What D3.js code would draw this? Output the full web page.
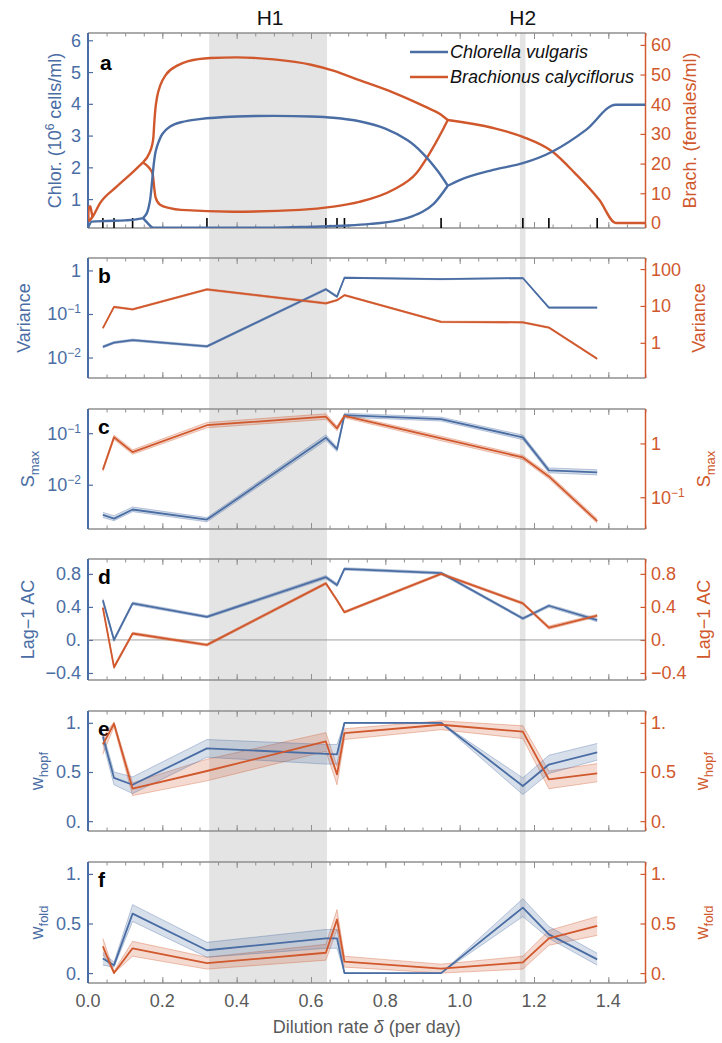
<!DOCTYPE html>
<html><head><meta charset="utf-8">
<script src="https://cdn.jsdelivr.net/npm/d3@7"></script>
<style>
body{margin:0;background:#fff}
svg{display:block}
text{font-family:"Liberation Sans",Arial,Helvetica,sans-serif}
</style>
</head><body>
<svg id="chart" width="722" height="1043"></svg>
<script>
// ---------------- DATA ----------------
const deltas = [0.04,0.07,0.12,0.32,0.64,0.67,0.69,0.95,1.17,1.24,1.37];
const H1 = [0.326,0.643];
const H2 = [1.162,1.177];

// Panel a: bifurcation branches [delta, value]
const chlorInit  = [[0,0.09],[0.004,0.2],[0.01,0.29],[0.05,0.31],[0.1,0.33],[0.13,0.36],[0.148,0.4]];
const chlorUpper = [[0.148,0.4],[0.158,0.55],[0.166,0.9],[0.172,1.5],[0.176,2.0],[0.182,2.5],[0.19,2.8],[0.2,3.05],[0.22,3.28],[0.25,3.42],[0.3,3.52],[0.4,3.6],[0.5,3.62],[0.6,3.6],[0.66,3.56],[0.73,3.45],[0.8,3.22],[0.86,2.85],[0.9,2.45],[0.94,1.9],[0.968,1.42]];
const chlorLower = [[0.148,0.4],[0.16,0.25],[0.175,0.1],[0.3,0.1],[0.5,0.1],[0.6,0.13],[0.7,0.17],[0.76,0.22],[0.82,0.3],[0.87,0.45],[0.9,0.6],[0.93,0.85],[0.968,1.42]];
const chlorAfter = [[0.968,1.42],[1.0,1.6],[1.09,1.92],[1.17,2.13],[1.25,2.5],[1.34,3.18],[1.42,3.97],[1.5,3.97]];

const brachInit  = [[0.002,0.5],[0.012,2.0],[0.032,6.6],[0.077,12.2],[0.122,17.3],[0.148,20.4]];
const brachLoop  = [[0.002,0.5],[0.001,3],[0.003,5.3],[0.006,5.6],[0.009,4],[0.012,2.0]];
const brachUpper = [[0.148,20.4],[0.165,23.5],[0.172,26],[0.176,29],[0.178,33],[0.181,38],[0.186,42.5],[0.195,46.5],[0.21,50],[0.24,53],[0.27,54.5],[0.33,55.6],[0.4,55.8],[0.5,55.1],[0.6,53.3],[0.66,51.3],[0.73,48.1],[0.82,44.0],[0.91,39.0],[0.946,36.8],[0.968,34.7]];
const brachLower = [[0.148,20.4],[0.165,18.5],[0.174,16.5],[0.178,12],[0.182,8.5],[0.194,6.1],[0.22,5],[0.25,4.4],[0.39,3.8],[0.57,4.4],[0.66,5.5],[0.73,7.1],[0.82,11.1],[0.884,16.8],[0.92,23.6],[0.95,30.3],[0.968,34.7]];
const brachAfter = [[0.968,34.7],[1.09,32],[1.17,29],[1.25,24],[1.31,16.8],[1.376,7.7],[1.42,0],[1.5,0]];

// Panel b: variance
const bBlue   = [0.0176,0.022,0.025,0.018,0.37,0.25,0.68,0.63,0.67,0.14,0.14];
const bBlueLo = [0.0166,0.0208,0.0237,0.0171,0.35,0.237,0.66,0.61,0.65,0.135,0.135];
const bBlueHi = [0.0187,0.0233,0.0265,0.0191,0.39,0.265,0.70,0.65,0.69,0.146,0.146];
const bRed    = [2.5,9.4,8.1,28,11.8,14.3,19.6,3.7,3.6,2.6,0.37];
const bRedLo  = [2.38,8.9,7.7,26.5,11.1,13.6,18.7,3.52,3.43,2.47,0.35];
const bRedHi  = [2.63,9.9,8.5,29.5,12.5,15.0,20.6,3.88,3.78,2.73,0.39];

// Panel c: S_max
const cBlue   = [0.0026,0.0022,0.0033,0.0021,0.082,0.049,0.225,0.188,0.083,0.019,0.0174];
const cBlueLo = [0.0023,0.002,0.003,0.0019,0.072,0.044,0.205,0.172,0.075,0.017,0.0155];
const cBlueHi = [0.0029,0.0025,0.0037,0.0023,0.093,0.054,0.245,0.205,0.092,0.0212,0.0195];
const cRed    = [0.325,1.3,0.69,2.18,3.16,1.91,3.25,1.24,0.55,0.244,0.036];
const cRedLo  = [0.3,1.18,0.63,1.95,2.8,1.72,3.0,1.12,0.5,0.22,0.033];
const cRedHi  = [0.35,1.43,0.76,2.45,3.55,2.1,3.5,1.36,0.6,0.27,0.04];

// Panel d: lag-1 AC
const dBlue   = [0.48,0.0,0.443,0.28,0.76,0.665,0.86,0.81,0.26,0.414,0.24];
const dBlueLo = [0.46,-0.02,0.425,0.265,0.74,0.645,0.845,0.795,0.245,0.395,0.22];
const dBlueHi = [0.5,0.02,0.46,0.295,0.78,0.685,0.875,0.825,0.275,0.43,0.26];
const dRed    = [0.39,-0.33,0.078,-0.06,0.685,0.48,0.336,0.8,0.443,0.15,0.295];
const dRedLo  = [0.375,-0.35,0.062,-0.075,0.67,0.465,0.322,0.785,0.428,0.13,0.28];
const dRedHi  = [0.405,-0.31,0.094,-0.045,0.7,0.495,0.35,0.815,0.458,0.17,0.31];

// Panel e: w_hopf
const eBlue   = [0.86,0.44,0.37,0.74,0.685,0.68,1.0,1.0,0.357,0.576,0.70];
const eBlueLo = [0.8,0.37,0.28,0.65,0.58,0.58,0.995,0.995,0.27,0.485,0.62];
const eBlueHi = [0.9,0.5,0.45,0.83,0.78,0.78,1.0,1.0,0.44,0.67,0.79];
const eRed    = [0.78,0.99,0.33,0.51,0.81,0.475,0.896,0.98,0.91,0.424,0.485];
const eRedLo  = [0.68,0.96,0.26,0.41,0.71,0.37,0.83,0.93,0.84,0.33,0.40];
const eRedHi  = [0.85,1.01,0.39,0.63,0.9,0.56,0.94,1.02,0.97,0.51,0.585];

// Panel f: w_fold
const fBlue   = [0.148,0.08,0.60,0.23,0.35,0.35,0.0,0.0,0.66,0.39,0.138];
const fBlueLo = [0.08,0.06,0.52,0.16,0.25,0.25,0.0,0.0,0.57,0.35,0.08];
const fBlueHi = [0.21,0.11,0.69,0.31,0.44,0.44,0.0,0.0,0.75,0.47,0.2];
const fRed    = [0.27,0.0,0.25,0.1,0.205,0.54,0.115,0.044,0.108,0.35,0.475];
const fRedLo  = [0.19,0.0,0.17,0.04,0.13,0.44,0.06,0.0,0.04,0.28,0.38];
const fRedHi  = [0.35,0.02,0.32,0.16,0.29,0.64,0.17,0.09,0.17,0.43,0.57];

const xTickLabels = ["0.0","0.2","0.4","0.6","0.8","1.0","1.2","1.4"];

// ---------------- STYLE ----------------
const BLUE="#4a6da4", RED="#d0582c", FRAME="#8f8f8f", SHADE="#e4e4e4", TXT="#5a5a5a";
const FS=18;
const svg=d3.select("#chart");
const x=d3.scaleLinear().domain([0,1.5]).range([88,645.5]);

// shaded bands
svg.append("rect").attr("x",x(H1[0])).attr("y",33).attr("width",x(H1[1])-x(H1[0])).attr("height",983-33).attr("fill",SHADE);
svg.append("rect").attr("x",x(H2[0])).attr("y",33).attr("width",x(H2[1])-x(H2[0])).attr("height",983-33).attr("fill",SHADE);
svg.append("text").attr("x",(x(H1[0])+x(H1[1]))/2+2).attr("y",25).attr("text-anchor","middle").attr("font-size",21).attr("fill","#111").text("H1");
svg.append("text").attr("x",(x(H2[0])+x(H2[1]))/2).attr("y",25).attr("text-anchor","middle").attr("font-size",21).attr("fill","#111").text("H2");

function addLabel(g, xx, yy, parts, anchor, color){
  const t=g.append("text").attr("x",xx).attr("y",yy).attr("text-anchor",anchor).attr("fill",color).attr("font-size",FS);
  let shift=0;
  parts.forEach(p=>{
    const s=t.append("tspan").text(p[0]);
    let target=0;
    if(p[1]==="sup"){target=-7; s.attr("font-size",12);}
    else if(p[1]==="sub"){target=5; s.attr("font-size",13);}
    else if(p[1]==="it"){s.attr("font-style","italic");}
    if(target!==shift){s.attr("dy",target-shift); shift=target;}
  });
  return t;
}
function vTitle(cx, cy, parts, color){
  const g=svg.append("g").attr("transform",`translate(${cx},${cy}) rotate(-90)`);
  return addLabel(g,0,6,parts,"middle",color);
}

function panel(o){
  const {top,bottom,yl,yr}=o;
  const g=svg.append("g");
  const cid="clip"+o.name;
  svg.append("clipPath").attr("id",cid).append("rect").attr("x",x(0)).attr("y",top).attr("width",x(1.5)-x(0)).attr("height",bottom-top);
  const minor=d3.range(0,1.5001,0.05).map(v=>+v.toFixed(2));
  const major=d3.range(0,1.5001,0.2).map(v=>+v.toFixed(2));
  [[bottom,d3.axisBottom],[top,d3.axisTop]].forEach(([yy,fn])=>{
    const a1=g.append("g").attr("transform",`translate(0,${yy})`).call(fn(x).tickValues(minor).tickSize(-3.5).tickFormat(""));
    const a2=g.append("g").attr("transform",`translate(0,${yy})`).call(fn(x).tickValues(major).tickSize(-6).tickFormat(""));
    [a1,a2].forEach(a=>{a.select(".domain").remove(); a.selectAll("line").attr("stroke",FRAME).attr("stroke-width",1);});
  });
  const la=g.append("g").attr("transform",`translate(${x(0)},0)`).call(d3.axisLeft(yl).tickValues(o.lt.map(d=>d[0])).tickSize(-5).tickFormat(""));
  la.select(".domain").remove(); la.selectAll("line").attr("stroke",BLUE).attr("stroke-width",1.2);
  const ra=g.append("g").attr("transform",`translate(${x(1.5)},0)`).call(d3.axisRight(yr).tickValues(o.rt.map(d=>d[0])).tickSize(-5).tickFormat(""));
  ra.select(".domain").remove(); ra.selectAll("line").attr("stroke",RED).attr("stroke-width",1.2);
  g.append("line").attr("x1",x(0)).attr("x2",x(1.5)).attr("y1",top).attr("y2",top).attr("stroke",FRAME).attr("stroke-width",1.3);
  g.append("line").attr("x1",x(0)).attr("x2",x(1.5)).attr("y1",bottom).attr("y2",bottom).attr("stroke",FRAME).attr("stroke-width",1.3);
  g.append("line").attr("x1",x(0)).attr("x2",x(0)).attr("y1",top).attr("y2",bottom).attr("stroke",BLUE).attr("stroke-width",2);
  g.append("line").attr("x1",x(1.5)).attr("x2",x(1.5)).attr("y1",top).attr("y2",bottom).attr("stroke",RED).attr("stroke-width",1.5);
  o.lt.forEach(d=>addLabel(g,81,yl(d[0])+6.5,d[1],"end",BLUE));
  o.rt.forEach(d=>addLabel(g,651,yr(d[0])+6.5,d[1],"start",RED));
  vTitle(o.ltx,(top+bottom)/2,o.ltitle,BLUE);
  vTitle(o.rtx,(top+bottom)/2,o.rtitle,RED);
  svg.append("text").attr("x",o.lx||98).attr("y",o.ly||top+25).attr("font-size",21).attr("font-weight","bold").attr("fill","#000").text(o.name);
  return {g:svg.append("g").attr("clip-path",`url(#${cid})`)};
}

function series(pg, yscale, vals, lo, hi, color){
  const pts=deltas.map((d,i)=>({d,v:vals[i],lo:lo[i],hi:hi[i]}));
  const area=d3.area().x(p=>x(p.d)).y0(p=>yscale(p.lo)).y1(p=>yscale(p.hi));
  pg.append("path").datum(pts).attr("d",area).attr("fill",color).attr("fill-opacity",0.22);
  ["lo","hi"].forEach(k=>pg.append("path").datum(pts).attr("d",d3.line().x(p=>x(p.d)).y(p=>yscale(p[k]))).attr("fill","none").attr("stroke",color).attr("stroke-opacity",0.35).attr("stroke-width",1));
  return pts;
}
function mainLine(pg,yscale,pts,color,w){
  pg.append("path").datum(pts).attr("d",d3.line().x(p=>x(p.d)).y(p=>yscale(p.v))).attr("fill","none").attr("stroke",color).attr("stroke-width",w||1.8).attr("stroke-linejoin","round");
}

// ---------------- PANEL A ----------------
const yA=d3.scaleLinear().domain([0.09,6.23]).range([228,33]);
const yAr=d3.scaleLinear().domain([-1.7,64]).range([228,33]);
const pa=panel({name:"a",top:33,bottom:228,yl:yA,yr:yAr,lx:100,ly:70,
  lt:[1,2,3,4,5,6].map(v=>[v,[[String(v),"n"]]]),
  rt:[0,10,20,30,40,50,60].map(v=>[v,[[String(v),"n"]]]),
  ltx:55,rtx:690,
  ltitle:[["Chlor. (10","n"],["6","sup"],[" cells/ml)","n"]],
  rtitle:[["Brach. (females/ml)","n"]]});
pa.g.selectAll(".samp").data(deltas).enter().append("line").attr("x1",d=>x(d)).attr("x2",d=>x(d)).attr("y1",228).attr("y2",218).attr("stroke","#000").attr("stroke-width",1.6);
const lineA=d3.line().x(d=>x(d[0])).y(d=>yA(d[1])).curve(d3.curveMonotoneX);
const lineAr=d3.line().x(d=>x(d[0])).y(d=>yAr(d[1])).curve(d3.curveMonotoneX);
const lineArLoop=d3.line().x(d=>x(d[0])).y(d=>yAr(d[1])).curve(d3.curveCatmullRom);
[brachInit,brachUpper,brachLower,brachAfter].forEach(s=>pa.g.append("path").attr("d",lineAr(s)).attr("fill","none").attr("stroke",RED).attr("stroke-width",2.4));
pa.g.append("path").attr("d",lineArLoop(brachLoop)).attr("fill","none").attr("stroke",RED).attr("stroke-width",2.4);
const lineAu=d3.line().x(d=>x(d[0])).y(d=>yA(d[1])).curve(d3.curveCatmullRom);
[chlorInit,chlorLower,chlorAfter].forEach(s=>pa.g.append("path").attr("d",lineA(s)).attr("fill","none").attr("stroke",BLUE).attr("stroke-width",2.4));
pa.g.append("path").attr("d",lineAu(chlorUpper)).attr("fill","none").attr("stroke",BLUE).attr("stroke-width",2.4);
const leg=[["Chlorella vulgaris",BLUE,52],["Brachionus calyciflorus",RED,77]];
leg.forEach(l=>{
  svg.append("line").attr("x1",410).attr("x2",448).attr("y1",l[2]).attr("y2",l[2]).attr("stroke",l[1]).attr("stroke-width",2.6);
  svg.append("text").attr("x",450).attr("y",l[2]+6).attr("font-size",18).attr("font-style","italic").attr("fill","#111").text(l[0]);
});

// ---------------- PANEL B ----------------
const yB=d3.scaleLog().domain([Math.pow(10,-2.47),Math.pow(10,0.286)]).range([378,258]);
const yBr=d3.scaleLog().domain([Math.pow(10,-0.954),Math.pow(10,2.3)]).range([378,258]);
const pb=panel({name:"b",top:258,bottom:378,yl:yB,yr:yBr,
  lt:[[1,[["1","n"]]],[0.1,[["10","n"],["−1","sup"]]],[0.01,[["10","n"],["−2","sup"]]]],
  rt:[[100,[["100","n"]]],[10,[["10","n"]]],[1,[["1","n"]]]],
  ltx:24,rtx:699,ltitle:[["Variance","n"]],rtitle:[["Variance","n"]]});
const bR=series(pb.g,yBr,bRed,bRedLo,bRedHi,RED);
const bB=series(pb.g,yB,bBlue,bBlueLo,bBlueHi,BLUE);
mainLine(pb.g,yB,bB,BLUE); mainLine(pb.g,yBr,bR,RED);

// ---------------- PANEL C ----------------
const yC=d3.scaleLog().domain([Math.pow(10,-2.86),Math.pow(10,-0.53)]).range([529,409]);
const yCr=d3.scaleLog().domain([Math.pow(10,-1.59),Math.pow(10,0.64)]).range([529,409]);
const pc=panel({name:"c",top:409,bottom:529,yl:yC,yr:yCr,
  lt:[[0.1,[["10","n"],["−1","sup"]]],[0.01,[["10","n"],["−2","sup"]]]],
  rt:[[1,[["1","n"]]],[0.1,[["10","n"],["−1","sup"]]]],
  ltx:28,rtx:704,ltitle:[["S","n"],["max","sub"]],rtitle:[["S","n"],["max","sub"]]});
const cR=series(pc.g,yCr,cRed,cRedLo,cRedHi,RED);
const cB=series(pc.g,yC,cBlue,cBlueLo,cBlueHi,BLUE);
mainLine(pc.g,yC,cB,BLUE); mainLine(pc.g,yCr,cR,RED);

// ---------------- PANEL D ----------------
const yD=d3.scaleLinear().domain([-0.485,0.98]).range([680,559]);
const dTicks=[[0.8,[["0.8","n"]]],[0.4,[["0.4","n"]]],[0,[["0.","n"]]],[-0.4,[["−0.4","n"]]]];
const pd=panel({name:"d",top:559,bottom:680,yl:yD,yr:yD,lt:dTicks,rt:dTicks,
  ltx:28,rtx:704,ltitle:[["Lag−1 AC","n"]],rtitle:[["Lag−1 AC","n"]]});
pd.g.append("line").attr("x1",x(0)).attr("x2",x(1.5)).attr("y1",yD(0)).attr("y2",yD(0)).attr("stroke","#888").attr("stroke-width",0.8);
const dR=series(pd.g,yD,dRed,dRedLo,dRedHi,RED);
const dB=series(pd.g,yD,dBlue,dBlueLo,dBlueHi,BLUE);
mainLine(pd.g,yD,dB,BLUE); mainLine(pd.g,yD,dR,RED);

// ---------------- PANEL E ----------------
const wTicks=[[1,[["1.","n"]]],[0.5,[["0.5","n"]]],[0,[["0.","n"]]]];
const yE=d3.scaleLinear().domain([-0.1,1.12]).range([831,711]);
const pe=panel({name:"e",top:711,bottom:831,yl:yE,yr:yE,lt:wTicks,rt:wTicks,
  ltx:37,rtx:702,ltitle:[["w","n"],["hopf","sub"]],rtitle:[["w","n"],["hopf","sub"]]});
const eR=series(pe.g,yE,eRed,eRedLo,eRedHi,RED);
const eB=series(pe.g,yE,eBlue,eBlueLo,eBlueHi,BLUE);
mainLine(pe.g,yE,eB,BLUE); mainLine(pe.g,yE,eR,RED);

// ---------------- PANEL F ----------------
const yF=d3.scaleLinear().domain([-0.1,1.12]).range([983,862]);
const pf=panel({name:"f",top:862,bottom:983,yl:yF,yr:yF,lt:wTicks,rt:wTicks,
  ltx:37,rtx:702,ltitle:[["w","n"],["fold","sub"]],rtitle:[["w","n"],["fold","sub"]]});
const fR=series(pf.g,yF,fRed,fRedLo,fRedHi,RED);
const fB=series(pf.g,yF,fBlue,fBlueLo,fBlueHi,BLUE);
mainLine(pf.g,yF,fB,BLUE); mainLine(pf.g,yF,fR,RED);

// x-axis labels
xTickLabels.forEach(l=>{
  svg.append("text").attr("x",x(+l)).attr("y",1007).attr("text-anchor","middle").attr("font-size",FS).attr("fill",TXT).text(l);
});
const xt=svg.append("text").attr("x",x(0.75)).attr("y",1033).attr("text-anchor","middle").attr("font-size",FS).attr("fill",TXT);
xt.append("tspan").text("Dilution rate ");
xt.append("tspan").attr("font-style","italic").text("δ");
xt.append("tspan").text(" (per day)");
</script>
</body></html>
